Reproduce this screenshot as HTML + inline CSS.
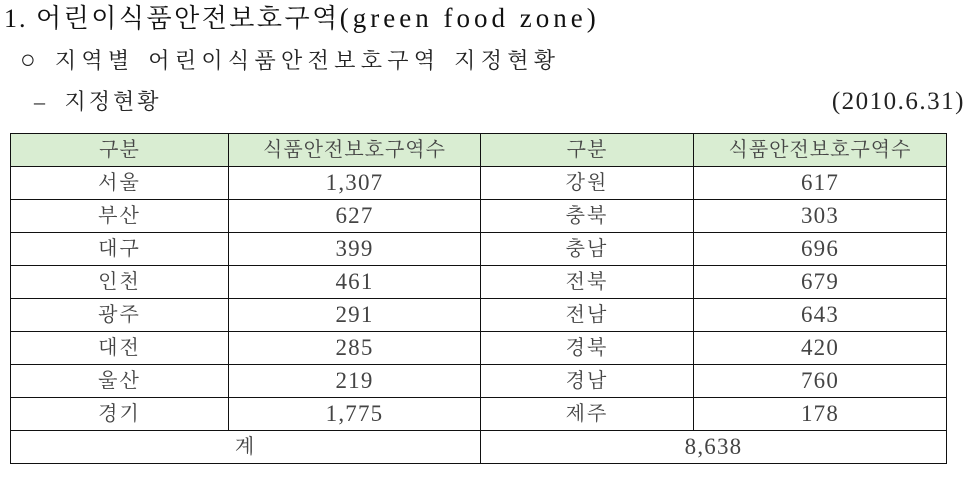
<!DOCTYPE html>
<html><head><meta charset="utf-8"><style>
body{margin:0;width:967px;height:479px;background:#fff;position:relative;overflow:hidden;font-family:"Liberation Serif","Noto Serif CJK KR","Noto Serif CJK SC",serif;color:#222}
.t{position:absolute;white-space:nowrap}
table{position:absolute;left:10px;top:133px;border-collapse:collapse;table-layout:fixed}
td{border:1.5px solid #111;height:32px;padding:0;text-align:center;font-size:20px;color:#444;line-height:32px;letter-spacing:2px}
tr.h td{background:#d9edd2;letter-spacing:1px}
.n{font-size:23px;letter-spacing:1.2px}
</style></head><body>
<div class="t" style="left:4px;top:0px;font-size:26px;line-height:36px;color:#111;letter-spacing:2px">1. <span style="letter-spacing:2.5px">어린이식품안전보호구역</span><span style="font-size:27px;letter-spacing:4px">(green food zone)</span></div>
<div class="t" style="left:20px;top:44px;font-size:22px;line-height:32px;letter-spacing:5.3px;word-spacing:3px"><span style="font-size:26px">○</span> 지역별 어린이식품안전보호구역 지정현황</div>
<div class="t" style="left:34px;top:86px;font-size:22px;line-height:32px;letter-spacing:3px;word-spacing:8px">– 지정현황</div>
<div class="t" style="right:2px;top:86px;font-size:25px;line-height:32px;letter-spacing:1.5px">(2010.6.31)</div>
<table>
<colgroup><col style="width:218px"><col style="width:252px"><col style="width:213px"><col style="width:253px"></colgroup>
<tr class="h"><td>구분</td><td>식품안전보호구역수</td><td>구분</td><td>식품안전보호구역수</td></tr>
<tr><td>서울</td><td class="n">1,307</td><td>강원</td><td class="n">617</td></tr>
<tr><td>부산</td><td class="n">627</td><td>충북</td><td class="n">303</td></tr>
<tr><td>대구</td><td class="n">399</td><td>충남</td><td class="n">696</td></tr>
<tr><td>인천</td><td class="n">461</td><td>전북</td><td class="n">679</td></tr>
<tr><td>광주</td><td class="n">291</td><td>전남</td><td class="n">643</td></tr>
<tr><td>대전</td><td class="n">285</td><td>경북</td><td class="n">420</td></tr>
<tr><td>울산</td><td class="n">219</td><td>경남</td><td class="n">760</td></tr>
<tr><td>경기</td><td class="n">1,775</td><td>제주</td><td class="n">178</td></tr>
<tr><td colspan="2">계</td><td colspan="2" class="n">8,638</td></tr>
</table>
</body></html>
